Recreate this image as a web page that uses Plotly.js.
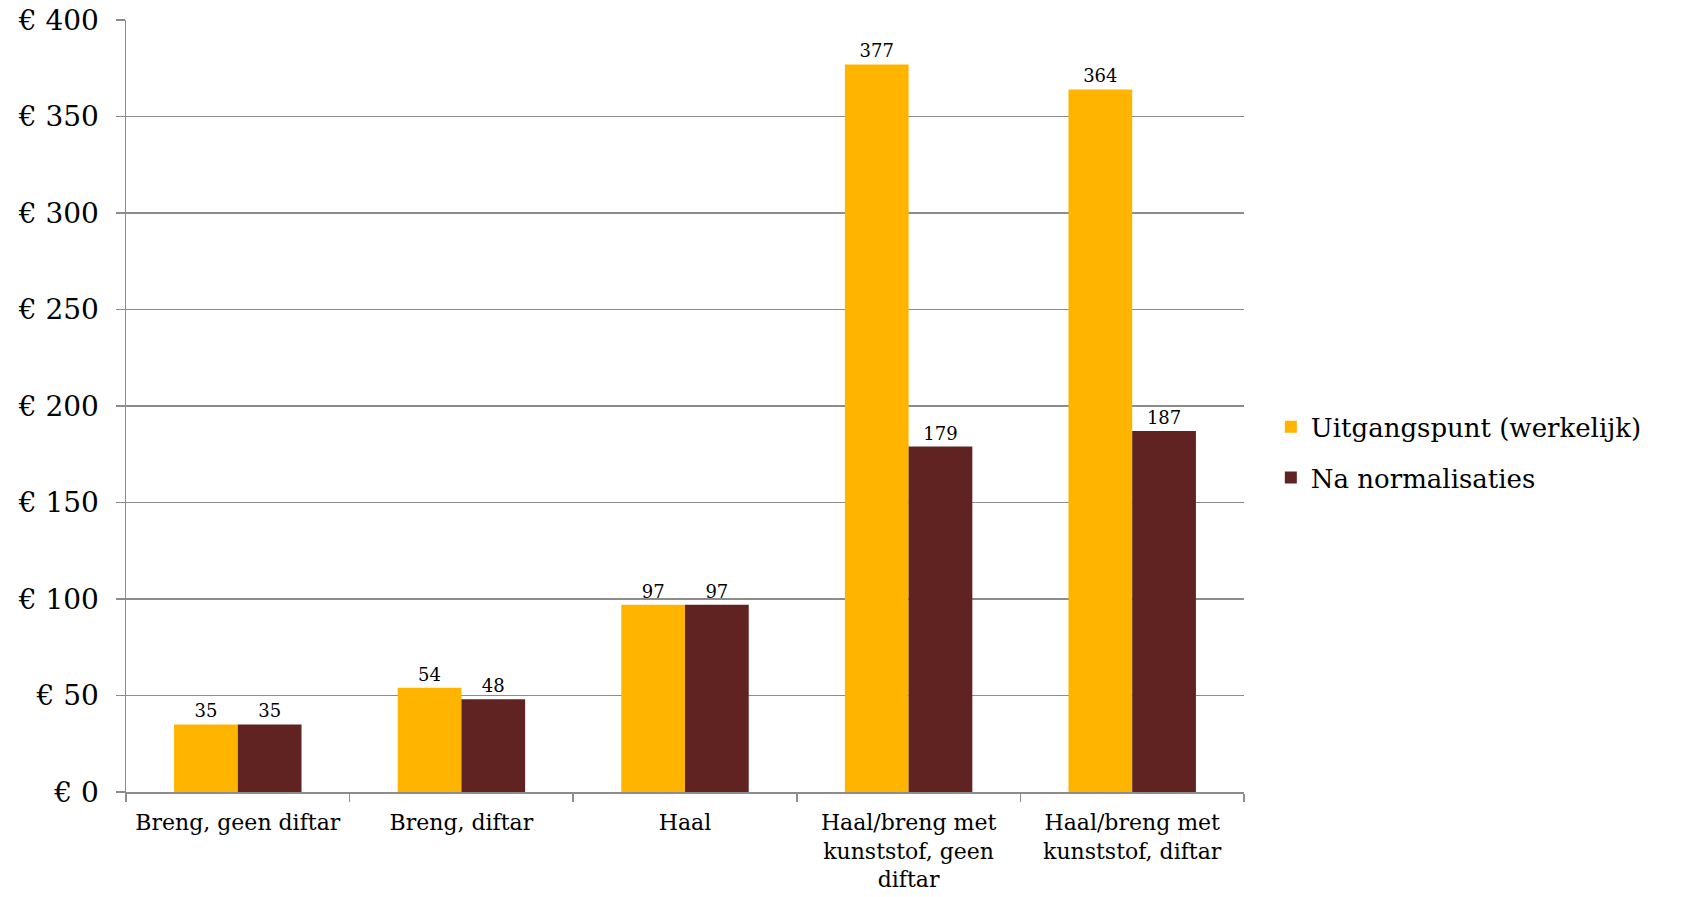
<!DOCTYPE html>
<html>
<head>
<meta charset="utf-8">
<script src="https://cdn.plot.ly/plotly-3.0.1.min.js"></script>
<style>html,body{margin:0;padding:0;background:#fff;}</style>
</head>
<body>
<div id="chart" style="width:1681px;height:897px;"></div>
<script>
const categories = [
  "Breng, geen diftar",
  "Breng, diftar",
  "Haal",
  "Haal/breng met<br>kunststof, geen<br>diftar",
  "Haal/breng met<br>kunststof, diftar"
];
const seriesNames = ["Uitgangspunt (werkelijk)", "Na normalisaties"];
const uitgangspunt = [35, 54, 97, 377, 364];
const naNormalisaties = [35, 48, 97, 179, 187];
const yTickVals = [0, 50, 100, 150, 200, 250, 300, 350, 400];
const yTickText = ["€ 0", "€ 50", "€ 100", "€ 150", "€ 200", "€ 250", "€ 300", "€ 350", "€ 400"];

const FONT = "DejaVu Serif, Liberation Serif, serif";
const colors = ["#FFB500", "#612322"];

const traces = [uitgangspunt, naNormalisaties].map((vals, i) => ({
  type: "bar",
  name: seriesNames[i],
  legendgroup: "g" + i,
  x: categories,
  y: vals,
  text: vals.map(String),
  textposition: "outside",
  cliponaxis: false,
  textfont: {family: FONT, size: 18, color: "#000"},
  marker: {color: colors[i]},
  hoverinfo: "none"
}));

const layout = {
  width: 1681,
  height: 897,
  margin: {l: 126, r: 437, t: 20, b: 105},
  paper_bgcolor: "#fff",
  plot_bgcolor: "#fff",
  barmode: "group",
  bargap: 0.43,
  bargroupgap: 0,
  font: {family: FONT, color: "#000"},
  showlegend: true,
  legend: {
    x: 1.024, y: 0.44, xanchor: "left", yanchor: "middle",
    font: {family: FONT, size: 26, color: "#000"},
    itemwidth: 30,
    tracegroupgap: 14
  },
  xaxis: {
    type: "category",
    showgrid: false,
    showline: true,
    linecolor: "#8c8c8c",
    linewidth: 1.5,
    ticks: "outside",
    tickson: "boundaries",
    ticklen: 8,
    tickcolor: "#8c8c8c",
    tickwidth: 1.5,
    tickfont: {family: FONT, size: 22, color: "#000"},
    tickangle: 0,
    ticklabelstandoff: 10,
    automargin: false
  },
  yaxis: {
    range: [0, 400],
    tickvals: yTickVals,
    ticktext: yTickText,
    showgrid: true,
    gridcolor: "#8c8c8c",
    gridwidth: 1.5,
    showline: true,
    linecolor: "#8c8c8c",
    linewidth: 1.5,
    ticks: "outside",
    ticklen: 9,
    tickcolor: "#8c8c8c",
    tickwidth: 1.5,
    tickfont: {family: FONT, size: 28, color: "#000"},
    ticklabelstandoff: 11,
    zeroline: false,
    automargin: false
  }
};

Plotly.newPlot("chart", traces, layout, {displayModeBar: false, staticPlot: true});
</script>
</body>
</html>
